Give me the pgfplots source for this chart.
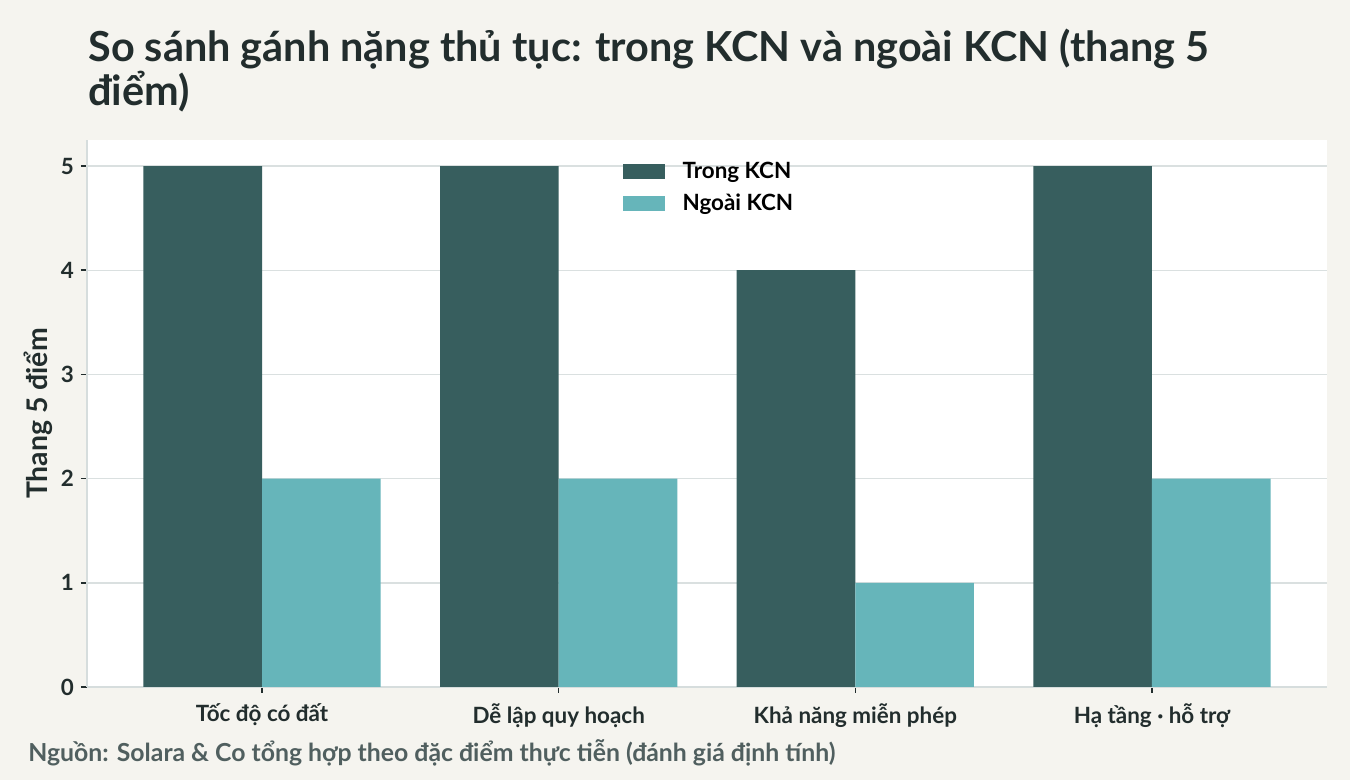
\documentclass[border=0pt]{standalone}
\usepackage{fontspec}
\setmainfont{Lato}
\usepackage{pgfplots}
\pgfplotsset{compat=1.18}
\definecolor{bg}{RGB}{245,244,239}
\definecolor{darkbar}{RGB}{55,94,94}
\definecolor{lightbar}{RGB}{102,181,186}
\definecolor{textc}{RGB}{34,45,45}
\definecolor{gridc}{RGB}{218,224,224}
\definecolor{spinec}{RGB}{214,221,221}
\definecolor{srcc}{RGB}{80,95,95}
\begin{document}
\begin{tikzpicture}
\fill[bg] (-43.5pt,-46.5pt) rectangle (631.5pt,343.5pt);
\path[use as bounding box] (-43.5pt,-46.5pt) rectangle (631.5pt,343.5pt);
\begin{axis}[
  scale only axis, width=620pt, height=273.5pt,
  at={(0pt,0pt)}, anchor=south west,
  xmin=-0.59, xmax=3.59, ymin=0, ymax=5.25,
  axis background/.style={fill=white},
  axis x line*=bottom, axis y line*=left,
  axis line style={draw=spinec, line width=1pt, -},
  xtick={0,1,2,3},
  xticklabels={Tốc độ có đất, Dễ lập quy hoạch, Khả năng miễn phép, Hạ tầng · hỗ trợ},
  ytick={0,1,2,3,4,5},
  ymajorgrids, grid style={draw=gridc, line width=0.7pt},
  tick style={draw=textc, line width=0.8pt},
  tick align=outside, major tick length=3pt,
  ticklabel style={font=\bfseries\fontsize{11.2}{13}\selectfont, text=textc},
  xticklabel style={yshift=-2pt},
  /pgf/number format/assume math mode=true,
  ylabel={Thang 5 điểm},
  ylabel style={at={(axis description cs:-0.0395,0.5)}, anchor=center, font=\bfseries\fontsize{14.2}{16}\selectfont, text=textc},
  legend style={at={(0.508,0.975)}, anchor=north, draw=none, fill=none,
    font=\bfseries\fontsize{11.2}{13}\selectfont, text=black, row sep=2pt,
    legend cell align=left,
    nodes={inner xsep=9pt}},
  legend image code/.code={\fill[#1] (0pt,-3.75pt) rectangle (21pt,3.75pt);},
]
\addplot[fill=darkbar, draw=none, ybar, bar width=59.3pt, bar shift=-29.65pt] coordinates {(0,5) (1,5) (2,4) (3,5)};
\addplot[fill=lightbar, draw=none, ybar, bar width=59.3pt, bar shift=29.65pt] coordinates {(0,2) (1,2) (2,1) (3,2)};
\legend{Trong KCN, Ngoài KCN}
\end{axis}
\node[anchor=base west, font=\bfseries\fontsize{20.7}{24}\selectfont, text=textc, inner sep=0pt] at (0.5pt,312.5pt) {So sánh gánh nặng thủ tục: trong KCN và ngoài KCN (thang 5};
\node[anchor=base west, font=\bfseries\fontsize{20.7}{24}\selectfont, text=textc, inner sep=0pt] at (0.5pt,290.5pt) {điểm)};
\node[anchor=base west, font=\bfseries\fontsize{12.4}{14}\selectfont, text=srcc, inner sep=0pt] at (-29.5pt,-37.5pt) {Nguồn: Solara \& Co tổng hợp theo đặc điểm thực tiễn (đánh giá định tính)};
\end{tikzpicture}
\end{document}
